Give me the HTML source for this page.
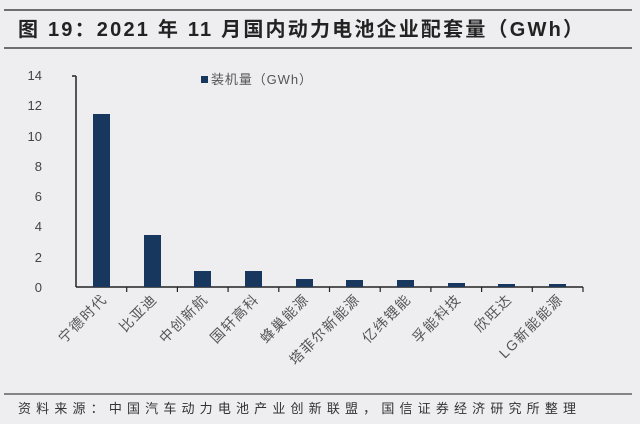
<!DOCTYPE html>
<html><head><meta charset="utf-8"><style>
body{margin:0;background:#eeeef0;}
svg{display:block;font-family:"Liberation Sans","Noto Sans CJK SC",sans-serif;}
</style></head><body>
<svg width="640" height="424" viewBox="0 0 640 424">
<rect width="640" height="424" fill="#eeeef0"/>
<line x1="4" y1="10" x2="632" y2="10" stroke="#444" stroke-width="1.5"/>
<text x="18" y="36" font-size="20" font-weight="bold" fill="#222" textLength="565" lengthAdjust="spacing">图 19：2021 年 11 月国内动力电池企业配套量（GWh）</text>
<line x1="4" y1="48" x2="632" y2="48" stroke="#444" stroke-width="1.5"/>
<rect x="201" y="76" width="7" height="7" fill="#17375e"/>
<text x="211" y="84" font-size="13" fill="#555" textLength="101" lengthAdjust="spacing">装机量（GWh）</text>
<g font-size="13" fill="#444" text-anchor="end">
<text x="42" y="80">14</text><text x="42" y="110">12</text><text x="42" y="141">10</text>
<text x="42" y="171">8</text><text x="42" y="201">6</text><text x="42" y="231">4</text>
<text x="42" y="262">2</text><text x="42" y="292">0</text>
</g>
<g stroke="#222" stroke-width="1.5">
<line x1="76" y1="76" x2="76" y2="287"/>
<line x1="72" y1="76" x2="76" y2="76"/>
<line x1="76" y1="287" x2="583" y2="287"/>
</g>
<g fill="#17375e">
<rect x="93" y="114" width="17" height="173"/>
<rect x="144" y="235" width="17" height="52"/>
<rect x="194" y="271" width="17" height="16"/>
<rect x="245" y="271" width="17" height="16"/>
<rect x="296" y="279" width="17" height="8"/>
<rect x="346" y="280" width="17" height="7"/>
<rect x="397" y="280" width="17" height="7"/>
<rect x="448" y="283" width="17" height="4"/>
<rect x="498" y="284" width="17" height="3"/>
<rect x="549" y="284" width="17" height="3"/>
</g>
<g stroke="#222" stroke-width="1.2">
<line x1="126.7" y1="287" x2="126.7" y2="292"/><line x1="177.4" y1="287" x2="177.4" y2="292"/>
<line x1="228.1" y1="287" x2="228.1" y2="292"/><line x1="278.8" y1="287" x2="278.8" y2="292"/>
<line x1="329.5" y1="287" x2="329.5" y2="292"/><line x1="380.2" y1="287" x2="380.2" y2="292"/>
<line x1="430.9" y1="287" x2="430.9" y2="292"/><line x1="481.6" y1="287" x2="481.6" y2="292"/>
<line x1="532.3" y1="287" x2="532.3" y2="292"/><line x1="583" y1="287" x2="583" y2="292"/>
</g>
<g font-size="14" fill="#555" text-anchor="end" letter-spacing="1.5">
<text transform="translate(108,300) rotate(-45)">宁德时代</text>
<text transform="translate(158,300) rotate(-45)">比亚迪</text>
<text transform="translate(209,300) rotate(-45)">中创新航</text>
<text transform="translate(260,300) rotate(-45)">国轩高科</text>
<text transform="translate(310,300) rotate(-45)">蜂巢能源</text>
<text transform="translate(361,300) rotate(-45)">塔菲尔新能源</text>
<text transform="translate(412,300) rotate(-45)">亿纬锂能</text>
<text transform="translate(462,300) rotate(-45)">孚能科技</text>
<text transform="translate(513,300) rotate(-45)">欣旺达</text>
<text transform="translate(564,300) rotate(-45)">LG新能能源</text>
</g>
<line x1="4" y1="394" x2="632" y2="394" stroke="#444" stroke-width="1.2"/>
<text x="18" y="413" font-size="13" fill="#333" textLength="558" lengthAdjust="spacing">资料来源：中国汽车动力电池产业创新联盟，国信证券经济研究所整理</text>
</svg>
</body></html>
